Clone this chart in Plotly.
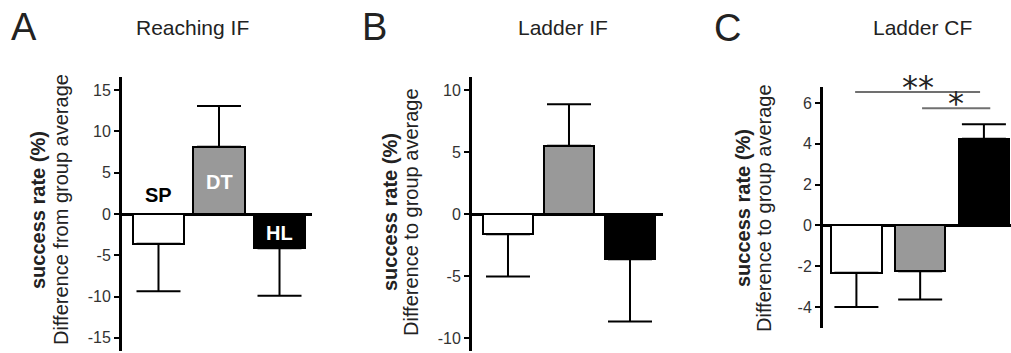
import plotly.graph_objects as go

# ---------------- data ----------------
groups = ["SP", "DT", "HL"]
bar_colors = ["#ffffff", "#999999", "#000000"]

reach_if_mean = [-3.6, 8.15, -4.15]
reach_if_sem = [5.75, 4.95, 5.75]

ladder_if_mean = [-1.64, 5.5, -3.65]
ladder_if_sem = [3.41, 3.35, 5.03]

ladder_cf_mean = [-2.32, -2.25, 4.25]
ladder_cf_sem = [1.68, 1.38, 0.70]

panel_letters = ["A", "B", "C"]
panel_titles = ["Reaching IF", "Ladder IF", "Ladder CF"]
ytitle_bold = "success rate (%)"
ytitle_sub = ["Difference from group average", "Difference to group average", "Difference to group average"]

ticks_a = [-15, -10, -5, 0, 5, 10, 15]
ticks_b = [-10, -5, 0, 5, 10]
ticks_c = [-4, -2, 0, 2, 4, 6]

sig_labels = ["**", "*"]
sig_x0 = [-0.02, 1.03]
sig_x1 = [1.94, 2.10]
sig_level = [6.53, 5.74]

# ---------------- layout helpers ----------------
W, H = 1011, 353
FONT = "Arial, Liberation Sans, Helvetica, sans-serif"

def px(x):
    return x / W

def py(y):
    return 1 - y / H

panels = [
    dict(mean=reach_if_mean, sem=reach_if_sem, ticks=ticks_a,
         xdom=[px(122), px(312)], ydom=[py(351), py(77)],
         xrange=[-0.603, 2.537], yrange=[-16.6, 16.6], width=0.843),
    dict(mean=ladder_if_mean, sem=ladder_if_sem, ticks=ticks_b,
         xdom=[px(472), px(663)], ydom=[py(351), py(77)],
         xrange=[-0.59, 2.541], yrange=[-11.05, 11.05], width=0.82),
    dict(mean=ladder_cf_mean, sem=ladder_cf_sem, ticks=ticks_c,
         xdom=[px(823), px(1011)], ydom=[py(328), py(87)],
         xrange=[-0.524, 2.425], yrange=[-5.03, 6.78], width=0.79),
]

fig = go.Figure()
layout = dict(
    width=W, height=H,
    margin=dict(l=0, r=0, t=0, b=0),
    paper_bgcolor="white", plot_bgcolor="white",
    showlegend=False,
    font=dict(family=FONT, color="#222222"),
    bargap=0,
)

for i, p in enumerate(panels):
    suffix = "" if i == 0 else str(i + 1)
    plus = [s if m > 0 else 0 for m, s in zip(p["mean"], p["sem"])]
    minus = [s if m < 0 else 0 for m, s in zip(p["mean"], p["sem"])]
    fig.add_trace(go.Bar(
        x=list(range(len(groups))), y=p["mean"],
        width=p["width"],
        marker=dict(color=bar_colors, line=dict(color="black", width=2)),
        error_y=dict(type="data", symmetric=False, array=plus, arrayminus=minus,
                     color="black", thickness=2, width=22),
        xaxis="x" + suffix, yaxis="y" + suffix,
        hoverinfo="skip",
    ))
    layout["xaxis" + suffix] = dict(
        domain=p["xdom"], range=p["xrange"], anchor="y" + suffix,
        showline=False, showgrid=False, zeroline=False, showticklabels=False,
        ticks="", fixedrange=True,
    )
    layout["yaxis" + suffix] = dict(
        domain=p["ydom"], range=p["yrange"], anchor="x" + suffix,
        showline=True, linecolor="black", linewidth=3,
        showgrid=False,
        zeroline=True, zerolinecolor="black", zerolinewidth=3,
        tickmode="array", tickvals=p["ticks"],
        ticktext=[str(t) for t in p["ticks"]],
        ticks="outside", ticklen=5, tickwidth=2, tickcolor="black",
        tickfont=dict(family=FONT, size=16, color="#333333"),
        fixedrange=True,
    )

fig.update_layout(**layout)

ann = []
# panel letters
for letter, (x, y) in zip(panel_letters, [(23.5, 27), (374.5, 27), (727.5, 28)]):
    ann.append(dict(text=letter, x=px(x), y=py(y), xref="paper", yref="paper",
                    xanchor="center", yanchor="middle", showarrow=False,
                    font=dict(family=FONT, size=38, color="#222222")))
# panel titles
for title, (x, y) in zip(panel_titles, [(192.5, 27), (563, 27), (922, 27)]):
    ann.append(dict(text=title, x=px(x), y=py(y), xref="paper", yref="paper",
                    xanchor="center", yanchor="middle", showarrow=False,
                    font=dict(family=FONT, size=21, color="#222222")))
# y titles
for sub, (xb, xr, yc) in zip(ytitle_sub, [(38, 61, 210), (390, 411, 212), (743, 764, 208)]):
    ann.append(dict(text="<b>" + ytitle_bold + "</b>", x=px(xb), y=py(yc),
                    xref="paper", yref="paper", xanchor="center", yanchor="middle",
                    textangle=-90, showarrow=False,
                    font=dict(family=FONT, size=20, color="#222222")))
    ann.append(dict(text=sub, x=px(xr), y=py(yc),
                    xref="paper", yref="paper", xanchor="center", yanchor="middle",
                    textangle=-90, showarrow=False,
                    font=dict(family=FONT, size=20, color="#222222")))
# group labels in panel A (SP above the zero line, DT / HL inside their bars)
label_colors = ["#000000", "#ffffff", "#ffffff"]
label_y = [2.3, reach_if_mean[1] * 0.48, reach_if_mean[2] * 0.55]
for k, g in enumerate(groups):
    ann.append(dict(text="<b>" + g + "</b>", x=k, y=label_y[k], xref="x", yref="y",
                    xanchor="center", yanchor="middle", showarrow=False,
                    font=dict(family=FONT, size=20, color=label_colors[k])))
# significance
shapes = []
for lab, x0, x1, lvl in zip(sig_labels, sig_x0, sig_x1, sig_level):
    shapes.append(dict(type="line", xref="x3", yref="y3", x0=x0, x1=x1, y0=lvl, y1=lvl,
                       line=dict(color="#707070", width=2)))
    ann.append(dict(text=lab, x=(x0 + x1) / 2, y=lvl, xref="x3", yref="y3",
                    xanchor="center", yanchor="bottom", yshift=-16, showarrow=False,
                    font=dict(family="DejaVu Sans", size=32, color="#222222")))

fig.update_layout(annotations=ann, shapes=shapes)
fig.write_html("out.html")
